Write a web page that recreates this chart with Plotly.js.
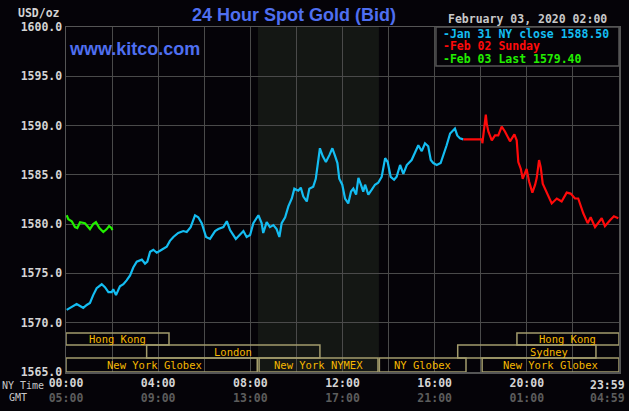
<!DOCTYPE html>
<html>
<head>
<meta charset="utf-8">
<script src="https://cdn.plot.ly/plotly-3.0.1.min.js"></script>
<style>
  html, body { margin: 0; padding: 0; background: #050308; }
  #chart { width: 629px; height: 411px; }
</style>
</head>
<body>
<div id="chart"></div>
<script>
// ---- DATA (hours since 00:00 NY time, price in USD/oz) ----
const jan31Hours = [0.03,0.25,0.46,0.61,0.75,0.90,1.04,1.18,1.33,1.55,1.69,1.84,1.98,2.05,2.17,2.34,2.49,2.63,2.78,2.92,3.07,3.29,3.43,3.53,3.65,3.79,3.94,4.08,4.37,4.51,4.66,4.87,5.09,5.24,5.41,5.60,5.74,5.89,6.08,6.25,6.47,6.61,6.83,6.98,7.12,7.37,7.55,7.70,7.84,7.99,8.13,8.35,8.49,8.56,8.71,8.85,9.00,9.14,9.26,9.36,9.51,9.65,9.80,9.91,10.08,10.19,10.30,10.45,10.56,10.73,10.84,10.92,11.02,11.14,11.28,11.43,11.56,11.68,11.78,11.86,11.99,12.11,12.25,12.37,12.47,12.59,12.69,12.80,12.90,12.98,13.12,13.27,13.41,13.55,13.70,13.85,13.96,14.09,14.24,14.35,14.50,14.64,14.79,15.00,15.15,15.29,15.44,15.58,15.72,15.83,15.94,16.09,16.26,16.38,16.52,16.67,16.88,16.98,17.10,17.24];
const jan31Price = [1571.3,1571.6,1571.9,1571.7,1571.5,1571.8,1572.0,1572.8,1573.5,1573.9,1573.6,1573.1,1573.1,1573.4,1572.8,1573.7,1573.9,1574.3,1574.8,1575.6,1576.2,1576.4,1576.0,1576.2,1577.2,1577.4,1577.1,1577.3,1577.7,1578.3,1578.7,1579.1,1579.3,1579.2,1579.7,1580.9,1580.7,1580.1,1578.7,1578.5,1579.3,1579.5,1579.7,1580.3,1579.4,1578.5,1578.9,1579.3,1578.7,1578.9,1580.1,1580.9,1580.1,1579.1,1580.2,1579.7,1579.9,1579.5,1578.7,1580.1,1580.7,1581.8,1582.6,1583.6,1583.4,1583.7,1582.8,1582.3,1583.6,1583.8,1584.6,1586.2,1587.7,1586.9,1586.3,1587.0,1587.7,1586.9,1586.2,1584.6,1584.0,1582.6,1582.1,1583.3,1583.6,1583.0,1584.7,1584.0,1583.3,1584.0,1583.0,1583.5,1584.0,1584.2,1584.8,1586.7,1586.3,1584.8,1584.5,1584.8,1586.0,1585.1,1586.0,1586.5,1587.2,1588.0,1587.4,1588.2,1587.9,1586.5,1586.2,1586.0,1586.2,1587.0,1588.0,1589.2,1589.7,1589.0,1588.7,1588.6];

const feb02Hours = [17.24,18.06,18.07,18.22,18.26,18.33,18.48,18.62,18.76,18.91,19.05,19.27,19.46,19.56,19.63,19.74,19.82,19.99,20.10,20.24,20.36,20.43,20.53,20.60,20.69,20.86,21.08,21.30,21.51,21.73,21.90,22.09,22.23,22.45,22.64,22.77,22.96,23.25,23.39,23.61,23.78,23.97];
const feb02Price = [1588.6,1588.6,1588.2,1591.1,1590.2,1589.4,1588.5,1589.0,1589.0,1589.9,1589.4,1588.4,1589.1,1588.5,1586.3,1585.6,1584.6,1585.6,1584.3,1583.2,1584.0,1584.7,1586.5,1585.8,1584.1,1583.3,1582.1,1582.6,1582.3,1583.2,1583.1,1582.6,1582.6,1581.1,1580.1,1580.7,1579.7,1580.6,1579.8,1580.4,1580.8,1580.6];

const feb03Hours = [0.03,0.10,0.25,0.39,0.49,0.61,0.82,1.04,1.18,1.30,1.45,1.62,1.77,1.87,1.98,2.01];
const feb03Price = [1580.9,1580.5,1580.3,1579.7,1579.6,1580.2,1580.1,1579.5,1580.0,1580.2,1579.6,1579.2,1579.5,1579.8,1579.6,1579.4];

const legendLabels = ['Jan 31 NY close 1588.50', 'Feb 02 Sunday', 'Feb 03 Last 1579.40'];
const nyTimeTicks = ['00:00','04:00','08:00','12:00','16:00','20:00','23:59'];
const gmtTimeTicks = ['05:00','09:00','13:00','17:00','21:00','01:00','04:59'];
const tickHours = [0,4,8,12,16,20,24];
const dateStamp = 'February 03, 2020 02:00';

// market sessions: name, start hour, end hour, row (1 = top)
const sessionNames = ['Hong Kong','London','New York Globex','New York NYMEX','NY Globex','Hong Kong','Sydney','New York Globex'];
const sessionStart = [0, 3.5, 0, 8.38, 13.6, 19.57, 17.0, 18.06];
const sessionEnd   = [4.47, 11.02, 8.3, 13.54, 17.36, 24, 23.0, 24];
const sessionRow   = [1, 2, 3, 3, 3, 1, 2, 3];
const nymexPit = [8.33, 13.58];

// ---- STYLE ----
const BG = '#050308';
const GRID = '#4a4a4a';
const MONO = 'DejaVu Sans Mono';
const seriesColors = ['#14bdf2', '#ff0a0a', '#22ee00'];
const rowBounds = {1: [1567.74, 1568.96], 2: [1566.42, 1567.74], 3: [1565.0, 1566.42]};
const labelShift = {'Sydney': 0.95, 'New York Globex': -0.3};

const traces = [
  {x: jan31Hours, y: jan31Price, name: legendLabels[0]},
  {x: feb02Hours, y: feb02Price, name: legendLabels[1]},
  {x: feb03Hours, y: feb03Price, name: legendLabels[2]}
].map((t, i) => Object.assign(t, {
  type: 'scatter', mode: 'lines', hoverinfo: 'skip',
  line: {color: seriesColors[i], width: 2.2}
}));

// tick values every 2 hours for gridlines, labels every 4 hours
const gridHours = [];
for (let h = 0; h < 24; h += 2) gridHours.push(h);
const gridText = gridHours.map(h => {
  const k = tickHours.indexOf(h);
  return k >= 0 ? nyTimeTicks[k] + '<br><span style="color:#5c5c5c">' + gmtTimeTicks[k] + '</span>' : '';
});

const shapes = [];
shapes.push({type: 'rect', xref: 'x', yref: 'paper', x0: nymexPit[0], x1: nymexPit[1], y0: 0, y1: 1,
  fillcolor: '#141714', line: {width: 0}, layer: 'below'});

const annotations = [];
sessionNames.forEach((name, i) => {
  const rb = rowBounds[sessionRow[i]];
  shapes.push({type: 'rect', xref: 'x', yref: 'y', x0: sessionStart[i], x1: sessionEnd[i], y0: rb[0], y1: rb[1],
    fillcolor: 'rgba(0,0,0,0)', line: {color: '#a39c6c', width: 1.5}, layer: 'above'});
  const shift = (name === 'New York Globex' && i === 2) ? labelShift[name] : (name === 'Sydney' ? labelShift[name] : 0);
  annotations.push({xref: 'x', yref: 'y', x: (sessionStart[i] + sessionEnd[i]) / 2 + shift, y: (rb[0] + rb[1]) / 2,
    text: name, showarrow: false, xanchor: 'center', yanchor: 'middle',
    font: {family: MONO, size: 10.5, color: '#f5b800'}});
});

// legend box (top right)
shapes.push({type: 'rect', xref: 'paper', yref: 'paper', x0: 0.669, x1: 1, y0: 0.887, y1: 1,
  fillcolor: BG, line: {color: '#555555', width: 1.5}, layer: 'above'});
const legendY = [0.980, 0.944, 0.906];
legendLabels.forEach((lab, i) => {
  annotations.push({xref: 'paper', yref: 'paper', x: 0.678, y: legendY[i], xanchor: 'left', yanchor: 'middle',
    text: '-' + lab, showarrow: false, font: {family: MONO, size: 11.5, color: seriesColors[i], weight: 'bold'}});
});

const grayFont = {family: MONO, size: 11.5, color: '#d4d4d4', weight: 'bold'};
annotations.push({xref: 'paper', yref: 'paper', x: 0.982, y: 1.024, xanchor: 'right', yanchor: 'middle',
  text: dateStamp, showarrow: false, font: {family: MONO, size: 11.5, color: '#c8c8c8', weight: 'bold'}});
annotations.push({xref: 'paper', yref: 'paper', x: -0.007, y: 1.04, xanchor: 'right', yanchor: 'middle',
  text: 'USD/oz', showarrow: false, font: grayFont});
annotations.push({xref: 'paper', yref: 'paper', x: 0.002, y: 0.936, xanchor: 'left', yanchor: 'middle',
  text: 'www.kitco.com', showarrow: false, font: {family: 'Liberation Sans', size: 18, color: '#4f6ff0', weight: 'bold'}});
annotations.push({xref: 'paper', yref: 'paper', x: -0.037, y: -0.038, xanchor: 'right', yanchor: 'middle',
  text: 'NY Time', showarrow: false, font: {family: MONO, size: 10, color: '#c8c8c8'}});
annotations.push({xref: 'paper', yref: 'paper', x: -0.067, y: -0.074, xanchor: 'right', yanchor: 'middle',
  text: 'GMT', showarrow: false, font: {family: MONO, size: 10, color: '#c8c8c8'}});
// last tick label (23:59) pulled inside the canvas
const lastK = tickHours.length - 1;
annotations.push({xref: 'paper', yref: 'paper', x: 0.980, y: -0.038, xanchor: 'center', yanchor: 'middle',
  text: nyTimeTicks[lastK], showarrow: false, font: grayFont});
annotations.push({xref: 'paper', yref: 'paper', x: 0.980, y: -0.074, xanchor: 'center', yanchor: 'middle',
  text: gmtTimeTicks[lastK], showarrow: false, font: {family: MONO, size: 11.5, color: '#5c5c5c', weight: 'bold'}});

const layout = {
  width: 629, height: 411,
  paper_bgcolor: BG, plot_bgcolor: BG,
  margin: {l: 66, r: 10, t: 27, b: 39},
  showlegend: false,
  title: {text: '24 Hour Spot Gold (Bid)', x: 294 / 629, xanchor: 'center', y: 1 - 15 / 411, yanchor: 'middle',
    font: {family: 'Liberation Sans', size: 18, color: '#4f6ff0', weight: 'bold'}},
  xaxis: {range: [0, 24], tickmode: 'array', tickvals: gridHours, ticktext: gridText,
    showgrid: true, gridcolor: GRID, gridwidth: 1, zeroline: false, ticks: '',
    showline: true, mirror: true, linecolor: '#555555', linewidth: 1.5,
    tickfont: grayFont, fixedrange: true},
  yaxis: {range: [1565, 1600], tick0: 1565, dtick: 5, tickformat: '.1f',
    showgrid: true, gridcolor: GRID, gridwidth: 1, zeroline: false, ticks: '',
    showline: true, mirror: true, linecolor: '#555555', linewidth: 1.5,
    tickfont: grayFont, fixedrange: true},
  shapes: shapes,
  annotations: annotations
};

Plotly.newPlot('chart', traces, layout, {staticPlot: true, displayModeBar: false});
</script>
</body>
</html>
